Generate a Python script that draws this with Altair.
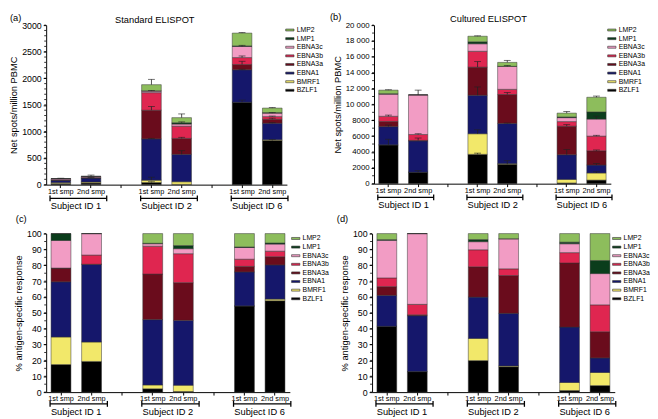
import altair as alt
import pandas as pd

# ---------------- data ----------------
segments = ["BZLF1", "BMRF1", "EBNA1", "EBNA3a", "EBNA3b", "EBNA3c", "LMP1", "LMP2"]
seg_colors = ["#000000", "#f2e86a", "#15176b", "#6a0c1c", "#df2650", "#f29cc4", "#0b3d1c", "#8dbd5c"]
bars = ["S1a", "S1b", "S2a", "S2b", "S6a", "S6b"]
slots = ["S1a", "S1b", "G1", "S2a", "S2b", "G2", "S6a", "S6b"]
sample_labels = ["1st smp", "2nd smp"]
subjects = ["Subject ID 1", "Subject ID 2", "Subject ID 6"]
subject_first = ["S1a", "S2a", "S6a"]
subject_last = ["S1b", "S2b", "S6b"]

# Standard ELISPOT (net spots / million PBMC), segments in order of `segments`
std_S1a = [20, 20, 40, 10, 0, 20, 5, 0]
std_S1b = [30, 19, 76, 0, 9, 21, 0, 0]
std_S2a = [40, 45, 775, 540, 330, 30, 5, 115]
std_S2b = [5, 50, 515, 300, 230, 40, 25, 95]
std_S6a = [1550, 0, 610, 100, 130, 210, 10, 240]
std_S6b = [830, 15, 310, 75, 50, 65, 10, 85]
# upper error bars
std_err_S1a = [0, 0, 0, 0, 0, 0, 6, 0]
std_err_S1b = [0, 0, 10, 0, 0, 25, 0, 0]
std_err_S2a = [15, 55, 10, 70, 0, 10, 0, 100]
std_err_S2b = [0, 0, 70, 20, 0, 0, 15, 70]
std_err_S6a = [40, 0, 10, 60, 30, 20, 0, 10]
std_err_S6b = [20, 0, 10, 20, 10, 10, 0, 10]

# Cultured ELISPOT
cul_S1a = [4900, 0, 2300, 650, 650, 2800, 50, 450]
cul_S1b = [1450, 0, 3950, 60, 740, 5000, 0, 0]
cul_S2a = [3700, 2600, 4850, 3550, 2000, 950, 250, 700]
cul_S2b = [2450, 80, 5070, 3650, 650, 2900, 0, 500]
cul_S6a = [90, 450, 3110, 3600, 580, 500, 90, 480]
cul_S6b = [450, 900, 1000, 1800, 1850, 2150, 900, 1850]
cul_err_S1a = [700, 0, 200, 0, 150, 0, 0, 50]
cul_err_S1b = [200, 0, 0, 300, 100, 600, 0, 0]
cul_err_S2a = [150, 500, 1050, 700, 0, 0, 0, 50]
cul_err_S2b = [450, 0, 50, 250, 0, 100, 0, 250]
cul_err_S6a = [0, 0, 650, 200, 0, 0, 0, 200]
cul_err_S6b = [0, 150, 200, 100, 100, 350, 0, 150]

std_ticks = [0, 500, 1000, 1500, 2000, 2500, 3000]
std_minor = list(range(0, 3001, 100))
cul_ticks = list(range(0, 20001, 2000))
cul_minor = list(range(0, 20001, 1000))
pct_ticks = list(range(0, 101, 10))
pct_minor = list(range(0, 101, 5))

std_vals = dict(zip(bars, [std_S1a, std_S1b, std_S2a, std_S2b, std_S6a, std_S6b]))
std_errs = dict(zip(bars, [std_err_S1a, std_err_S1b, std_err_S2a, std_err_S2b, std_err_S6a, std_err_S6b]))
cul_vals = dict(zip(bars, [cul_S1a, cul_S1b, cul_S2a, cul_S2b, cul_S6a, cul_S6b]))
cul_errs = dict(zip(bars, [cul_err_S1a, cul_err_S1b, cul_err_S2a, cul_err_S2b, cul_err_S6a, cul_err_S6b]))


def long_df(vals, errs):
    rows = []
    for b in bars:
        for i, s in enumerate(segments):
            rows.append(dict(bar=b, seg=s, idx=i, value=vals[b][i], err=errs[b][i]))
    return pd.DataFrame(rows)


std_df = long_df(std_vals, std_errs)
cul_df = long_df(cul_vals, cul_errs)
bracket_df = pd.DataFrame({"first": subject_first, "last": subject_last, "label": subjects})

NUMFONT = "Liberation Sans"
TXTFONT = "Liberation Sans Narrow, Arial Narrow, Liberation Sans"

legend_domain = segments[::-1]
legend_range = seg_colors[::-1]

x_label_expr = ("indexof(datum.value, 'G') == 0 ? '' : "
                "(slice(datum.value, -1) == 'a' ? '%s' : '%s')" % (sample_labels[0], sample_labels[1]))


def panel(df, letter, title, percent, W, H, ticks, minor, ytitle,
          letter_xy, title_xy, legend_offset, ylabel_size=9, ylabel_expr=None,
          br_y=14, sub_y=22):
    xscale = alt.Scale(domain=slots, paddingInner=0.35, paddingOuter=0.16)
    xaxis = alt.Axis(title=None, labelAngle=0, labelExpr=x_label_expr, labelFontSize=7.5,
                     labelFont=TXTFONT, tickSize=3, labelPadding=0, domainColor="black",
                     tickColor="black", labelColor="black", domainWidth=1)
    yscale = alt.Scale(domain=[0, ticks[-1]], nice=False, zero=True)
    yaxis_kw = dict(title=ytitle, values=ticks, grid=False, labelFontSize=ylabel_size,
                    labelFont=NUMFONT, format="d",
                    titleFontSize=9.5, titleFont=TXTFONT, titleFontWeight="normal",
                    tickSize=3, labelPadding=2, titlePadding=3, domainColor="black",
                    tickColor="black", labelColor="black", titleColor="black")
    if ylabel_expr:
        yaxis_kw["labelExpr"] = ylabel_expr
    yaxis = alt.Axis(**yaxis_kw)

    base = alt.Chart(df)
    if percent:
        base = base.transform_joinaggregate(total="sum(value)", groupby=["bar"]).transform_calculate(
            yv="100 * datum.value / datum.total")
    else:
        base = base.transform_calculate(yv="datum.value")

    xenc = alt.X("bar:N", scale=xscale, axis=xaxis)
    yenc = alt.Y("yv:Q", stack="zero", scale=yscale, axis=yaxis)

    bar_layer = base.mark_bar(stroke="#333333", strokeWidth=0.5).encode(
        x=xenc,
        y=yenc,
        color=alt.Color("seg:N", scale=alt.Scale(domain=legend_domain, range=legend_range),
                        legend=alt.Legend(title=None, orient="right", offset=legend_offset,
                                          symbolType="M-1,-0.24H1V0.24H-1Z", symbolSize=72,
                                          symbolStrokeColor="#333333", symbolStrokeWidth=0.6,
                                          symbolOpacity=1, labelFontSize=7, labelFont=TXTFONT,
                                          labelColor="black", labelOffset=2, rowPadding=0.8,
                                          padding=0)),
        order=alt.Order("idx:Q", sort="ascending"),
    )
    layers = [bar_layer]

    if not percent:
        eb = (base.transform_window(cum="sum(yv)", groupby=["bar"], sort=[alt.SortField("idx")],
                                    frame=[None, 0])
              .transform_filter("datum.err > 0")
              .transform_calculate(top="datum.cum + datum.err"))
        layers.append(eb.mark_rule(color="#222222", strokeWidth=0.8).encode(
            x=xenc, y=alt.Y("cum:Q", scale=yscale, axis=yaxis), y2="top:Q"))
        layers.append(eb.mark_tick(color="#222222", thickness=0.9, size=7).encode(
            x=xenc, y=alt.Y("top:Q", scale=yscale, axis=yaxis)))

    minor_df = pd.DataFrame({"m": minor})
    layers.append(alt.Chart(minor_df).mark_rule(color="black", strokeWidth=0.8).encode(
        x=alt.value(-2), x2=alt.value(0), y=alt.Y("m:Q", scale=yscale, axis=yaxis)))

    br = alt.Chart(bracket_df)
    layers.append(br.mark_rule(color="black", strokeWidth=1.3, xOffset=-1, x2Offset=6).encode(
        x=alt.X("first:N", scale=xscale, axis=xaxis, bandPosition=0),
        x2=alt.X2("last:N", bandPosition=1),
        y=alt.value(H + br_y)))
    layers.append(br.mark_rule(color="black", strokeWidth=1.3, xOffset=-1).encode(
        x=alt.X("first:N", scale=xscale, axis=xaxis, bandPosition=0),
        y=alt.value(H + br_y - 3), y2=alt.value(H + br_y + 3)))
    layers.append(br.mark_rule(color="black", strokeWidth=1.3, xOffset=6).encode(
        x=alt.X("last:N", scale=xscale, axis=xaxis, bandPosition=1),
        y=alt.value(H + br_y - 3), y2=alt.value(H + br_y + 3)))
    layers.append(br.mark_text(fontSize=9.5, font=TXTFONT, color="black", align="center",
                               baseline="middle", dx=15.5).encode(
        x=alt.X("first:N", scale=xscale, axis=xaxis),
        y=alt.value(H + sub_y), text="label:N"))

    lab_df = pd.DataFrame({"t": [letter]})
    layers.append(alt.Chart(lab_df).mark_text(fontSize=9.5, font=NUMFONT, color="black",
                                              align="left", baseline="middle").encode(
        x=alt.value(letter_xy[0]), y=alt.value(letter_xy[1]), text="t:N"))
    if title:
        tdf = pd.DataFrame({"t": [title]})
        layers.append(alt.Chart(tdf).mark_text(fontSize=9.5, font=TXTFONT, color="black",
                                               align="center", baseline="middle").encode(
            x=alt.value(title_xy[0]), y=alt.value(title_xy[1]), text="t:N"))

    return alt.layer(*layers).properties(width=W, height=H)


cul_label_expr = ("datum.value >= 10000 ? replace(format(datum.value, ','), ',', ' ') : "
                  "format(datum.value, 'd')")

pa = panel(std_df, "(a)", "Standard ELISPOT", False, 246, 163, std_ticks, std_minor,
           "Net spots/million PBMC", (-37, -7), (111, -5.5), -2)
pb = panel(cul_df, "(b)", "Cultured ELISPOT", False, 242, 162, cul_ticks, cul_minor,
           "Net spots/million PBMC", (-45, -8), (117, -6), -4, ylabel_size=8,
           ylabel_expr=cul_label_expr)
pc = panel(std_df, "(c)", None, True, 249, 162, pct_ticks, pct_minor,
           "% antigen-specific response", (-31, -15), (0, 0), 1, br_y=12, sub_y=20.5)
pd_ = panel(cul_df, "(d)", None, True, 248, 162, pct_ticks, pct_minor,
            "% antigen-specific response", (-36, -15), (0, 0), -3, br_y=12, sub_y=20.5)

row1 = alt.hconcat(pa, pb, spacing=7).resolve_legend(color="independent")
row2 = alt.hconcat(pc, pd_, spacing=8).resolve_legend(color="independent")

chart = (alt.vconcat(row1, row2, spacing=3)
         .resolve_legend(color="independent")
         .properties(padding=0, background="white")
         .configure_view(stroke=None)
         .configure_axis(grid=False))

chart.save("out.html", embed_options={"renderer": "svg", "actions": False})
